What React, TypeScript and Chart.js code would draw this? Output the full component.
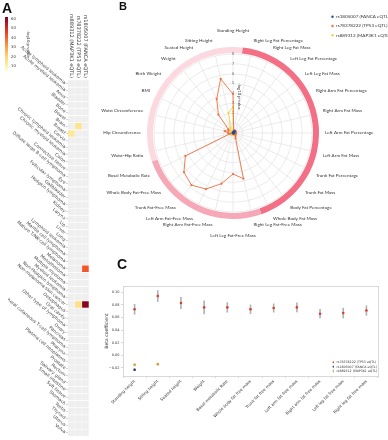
import React, { useEffect, useRef } from 'react';
import { Chart, registerables } from 'chart.js';

Chart.register(...registerables);

// ---------------- Panel A : heatmap ----------------
const cancerTypes = [
  'Acute lymphoid leukemia', 'Acute myeloid leukemia', 'Anus', 'Bladder', 'Bone', 'Bowel', 'Brain', 'Breast',
  'Cervix', 'Chronic lymphoid leukemia', 'Chronic myeloid leukemia', 'Colon', 'Connective tissue',
  'Diffuse large B-cell lymphoma', 'Eye', 'Follicular lymphoma', 'Gallbladder', 'Hodgkin lymphoma', 'Kidney',
  'Larynx', 'Lip', 'Liver', 'Lung', 'Lymphoid leukemia', 'Mantle cell lymphoma', 'Mature T/NK-cell lymphoma',
  'Melanoma', 'Mesothelioma', 'Multiple myeloma', 'Myeloid leukemia', 'Non-Hodgkin lymphoma',
  'Non-melanoma skin cancer', 'Oesophagus', 'Oral cavity', 'Other type of lymphoma', 'Ovary', 'Pancreas',
  'Peripheral cutaneous T-cell lymphoma', 'Pharynx', 'Plasma cell neoplasms', 'Prostate', 'Rectum',
  'Salivary gland', 'Small intestine', 'Soft tissue', 'Stomach', 'Testis', 'Thyroid', 'Uterus', 'Vulva',
];
const snpLabels = ['rs889312 (MAP3K1 eQTL)', 'rs78378222 (TP53 eQTL)', 'rs1805007 (FANCA eQTL)'];
const map3k1CancerLogP = [
  0, 0, 0, 0, 0, 0, 0, 14, 0, 0, 0, 0, 0, 0, 0, 0, 0, 0, 0, 0, 0, 0, 0, 0, 0,
  0, 0, 0, 0, 0, 0, 0, 0, 0, 0, 0, 0, 0, 0, 0, 0, 0, 0, 0, 0, 0, 0, 0, 0, 0,
];
const tp53CancerLogP = [
  0, 0, 0, 0, 0, 0, 15, 0, 0, 0, 0, 0, 0, 0, 0, 0, 0, 0, 0, 0, 0, 0, 0, 0, 0,
  0, 0, 0, 0, 0, 0, 17, 0, 0, 0, 0, 0, 0, 0, 0, 0, 0, 0, 0, 0, 0, 0, 0, 0, 0,
];
const fancaCancerLogP = [
  0, 0, 0, 0, 0, 0, 0, 0, 0, 0, 0, 0, 0, 0, 0, 0, 0, 0, 0, 0, 0, 0, 0, 0, 0,
  0, 42, 0, 0, 0, 0, 61, 0, 0, 0, 0, 0, 0, 0, 0, 0, 0, 0, 0, 0, 0, 0, 0, 0, 0,
];
const colorbarTicks = [10, 20, 30, 40, 50, 60];
const colorbarMin = 5;
const colorbarMax = 62;

// ---------------- Panel B : radar ----------------
const radarTraits = [
  'Standing Height', 'Right Leg Fat Percentage', 'Right Leg Fat Mass', 'Left Leg Fat Percentage',
  'Left Leg Fat Mass', 'Right Arm Fat Percentage', 'Right Arm Fat Mass', 'Left Arm Fat Percentage',
  'Left Arm Fat Mass', 'Trunk Fat Percentage', 'Trunk Fat Mass', 'Body Fat Percentage', 'Whole Body Fat Mass',
  'Right Leg Fat-Free Mass', 'Left Leg Fat-Free Mass', 'Right Arm Fat-Free Mass', 'Left Arm Fat-Free Mass',
  'Trunk Fat-Free Mass', 'Whole Body Fat-Free Mass', 'Basal Metabolic Rate', 'Waist-Hip Ratio',
  'Hip Circumference', 'Waist Circumference', 'BMI', 'Birth Weight', 'Weight', 'Seated Height', 'Sitting Height',
];
const traitGroup = [
  'size', 'fat', 'fat', 'fat', 'fat', 'fat', 'fat', 'fat', 'fat', 'fat', 'fat', 'fat', 'fat',
  'fatfree', 'fatfree', 'fatfree', 'fatfree', 'fatfree', 'fatfree', 'fatfree',
  'size', 'size', 'size', 'size', 'size', 'size', 'size', 'size',
];
const fancaRadar = [
  0.1, 0.15, 0.2, 0.3, 0.25, 0.2, 0.15, 0.1, 0.1, 0.1, 0.1, 0.1, 0.1, 0.05,
  0.05, 0.05, 0.05, 0.05, 0.05, 0.05, 0.05, 0.05, 0.05, 0.05, 0.05, 0.05, 0.05, 0.1,
];
const tp53Radar = [
  3.95, 0.3, 0.3, 0.3, 0.3, 0.3, 0.3, 0.3, 0.3, 0.3, 0.3, 0.4, 0.6, 4.75,
  4.15, 5.26, 6.3, 6.75, 6.36, 5.35, 0.3, 0.5, 0.85, 0.5, 0.6, 2.37, 3.81, 5.62,
];
const map3k1Radar = [
  2.63, 0.2, 0.2, 0.2, 0.2, 0.2, 0.2, 0.2, 0.2, 0.2, 0.2, 0.2, 0.2, 0.2,
  0.2, 0.2, 0.2, 0.2, 0.2, 0.2, 0.2, 0.2, 0.2, 0.2, 0.3, 0.4, 0.6, 2.09,
];
const radarMax = 8;
const radarStep = 1;

// ---------------- Panel C : beta coefficients ----------------
const betaTraits = [
  'Standing height', 'Sitting height', 'Seated height', 'Weight', 'Basal metabolic Rate',
  'Whole body fat free mass', 'Trunk fat free mass', 'Left arm fat free mass', 'Right arm fat free mass',
  'Left leg fat free mass', 'Right leg fat free mass',
];
const tp53Beta = [0.073, 0.094, 0.083, 0.076, 0.076, 0.073, 0.075, 0.076, 0.066, 0.067, 0.071];
const tp53Err = [0.008, 0.0087, 0.009, 0.0105, 0.0076, 0.007, 0.0066, 0.0073, 0.0068, 0.0079, 0.0076];
const fancaBeta = [-0.023, null, null, null, null, null, null, null, null, null, null];
const fancaErr = [0.0014, null, null, null, null, null, null, null, null, null, null];
const map3k1Beta = [-0.0153, -0.0142, null, null, null, null, null, null, null, null, null];
const map3k1Err = [0.0014, 0.0014, null, null, null, null, null, null, null, null, null];
const betaTicks = [-0.02, 0, 0.02, 0.04, 0.06, 0.08, 0.1];

const BLUE = '#1f4f9f';
const ORANGE = '#ef6f40';
const YELLOW = '#f1d442';
const RED = '#d8402b';
const NAVY = '#1f3a72';
const GOLD = '#d2a53c';

const heatStops: [number, string][] = [
  [0, '#ffffcc'], [0.25, '#fed976'], [0.5, '#fd8d3c'], [0.72, '#f03b20'], [1, '#800026'],
];

function hexToRgb(h: string) {
  const n = parseInt(h.slice(1), 16);
  return [(n >> 16) & 255, (n >> 8) & 255, n & 255];
}
function heatColor(v: number) {
  if (!v) return '#efefef';
  const t = Math.max(0, Math.min(1, (v - colorbarMin) / (colorbarMax - colorbarMin)));
  for (let i = 1; i < heatStops.length; i++) {
    if (t <= heatStops[i][0]) {
      const [t0, c0] = heatStops[i - 1];
      const [t1, c1] = heatStops[i];
      const f = (t - t0) / (t1 - t0);
      const a = hexToRgb(c0);
      const b = hexToRgb(c1);
      const c = a.map((x, k) => Math.round(x + (b[k] - x) * f));
      return `rgb(${c[0]},${c[1]},${c[2]})`;
    }
  }
  return heatStops[heatStops.length - 1][1];
}

const heatHeaderPlugin = {
  id: 'heatHeader',
  afterDraw(chart: any) {
    const { ctx, chartArea, scales } = chart;
    ctx.save();
    ctx.fillStyle = '#333';
    ctx.font = '5px "DejaVu Sans"';
    ctx.textAlign = 'right';
    ctx.textBaseline = 'middle';
    chart.data.datasets.forEach((ds: any, i: number) => {
      const x = scales.x.getPixelForValue(i + 0.5);
      ctx.save();
      ctx.translate(x, chartArea.top - 2);
      ctx.rotate(Math.PI / 2);
      ctx.fillText(ds.label, 0, 0);
      ctx.restore();
    });
    ctx.restore();
  },
};

const radarLabelPlugin = {
  id: 'radarLabels',
  afterDraw(chart: any) {
    const scale = chart.scales.r;
    const ctx = chart.ctx;
    ctx.save();
    ctx.font = '4.6px Lato';
    ctx.fillStyle = '#333';
    chart.data.labels.forEach((label: string, i: number) => {
      const deg = Math.round((scale.getIndexAngle(i) * 180) / Math.PI) % 360;
      const pad = deg === 0 || deg === 180 ? 21 : 13;
      const p = scale.getPointPosition(i, scale.drawingArea + pad);
      ctx.textAlign = deg === 0 || deg === 180 ? 'center' : deg < 180 ? 'left' : 'right';
      ctx.textBaseline = deg === 90 || deg === 270 ? 'middle' : deg > 270 || deg < 90 ? 'bottom' : 'top';
      ctx.fillText(label, p.x, p.y);
    });
    ctx.save();
    ctx.translate(scale.xCenter + 6.5, scale.yCenter - 36.5);
    ctx.rotate(Math.PI / 2);
    ctx.textAlign = 'center';
    ctx.textBaseline = 'middle';
    ctx.font = '4.2px Lato';
    ctx.fillText('-log10 p-value', 0, 0);
    ctx.restore();
    ctx.restore();
  },
};

const cornerLegendPlugin = {
  id: 'cornerLegend',
  afterDraw(chart: any, _args: any, opts: any) {
    if (!opts || !opts.show) return;
    const ctx = chart.ctx;
    ctx.save();
    ctx.font = `${opts.fontSize}px ${opts.family}`;
    ctx.textAlign = 'left';
    ctx.textBaseline = 'middle';
    opts.items.forEach((idx: number, k: number) => {
      const ds = chart.data.datasets[idx];
      const y = opts.y + k * opts.gap;
      const col = ds.pointBackgroundColor || ds.borderColor;
      if (opts.errorGlyph) {
        ctx.strokeStyle = '#aaa';
        ctx.lineWidth = 0.6;
        ctx.beginPath();
        ctx.moveTo(opts.x, y - 1.6);
        ctx.lineTo(opts.x, y + 1.6);
        ctx.stroke();
      }
      ctx.fillStyle = col;
      ctx.beginPath();
      ctx.arc(opts.x, y, opts.r, 0, Math.PI * 2);
      ctx.fill();
      ctx.fillStyle = '#333';
      ctx.fillText(ds.label, opts.x + opts.textGap, y);
    });
    ctx.restore();
  },
};

const letterStyle = (left: number, top: number, size: number): React.CSSProperties => ({
  position: 'absolute',
  left,
  top,
  fontFamily: '"Liberation Sans", Arial, sans-serif',
  fontWeight: 'bold',
  fontSize: size,
  lineHeight: 1,
  color: '#111',
});

export default function App() {
  const heatRef = useRef<HTMLCanvasElement>(null);
  const cbRef = useRef<HTMLCanvasElement>(null);
  const ringRef = useRef<HTMLCanvasElement>(null);
  const radarRef = useRef<HTMLCanvasElement>(null);
  const betaRef = useRef<HTMLCanvasElement>(null);

  useEffect(() => {
    const charts: Chart[] = [];
    const heatColumns = [map3k1CancerLogP, tp53CancerLogP, fancaCancerLogP];

    charts.push(
      new Chart(heatRef.current!, {
        type: 'bar',
        data: {
          labels: cancerTypes,
          datasets: heatColumns.map((col, ci) => ({
            label: snpLabels[ci],
            data: col.map(() => 1),
            backgroundColor: col.map((v) => heatColor(v)),
            borderColor: '#ffffff',
            borderWidth: 0.6,
            barPercentage: 1,
            categoryPercentage: 1,
          })),
        },
        options: {
          indexAxis: 'y',
          responsive: false,
          animation: false,
          layout: { padding: { top: 80, left: 8, right: 3, bottom: 0 } },
          plugins: { legend: { display: false }, tooltip: { enabled: false } },
          scales: {
            x: { stacked: true, min: 0, max: 3, display: false },
            y: {
              stacked: true,
              position: 'left',
              ticks: {
                autoSkip: false,
                minRotation: -40,
                maxRotation: -40,
                font: { size: 4.5, family: '"DejaVu Sans"' },
                color: '#444',
                padding: 1,
              },
              grid: { display: true, drawOnChartArea: false, offset: false, tickLength: 2, color: '#aaa', lineWidth: 0.5 },
              border: { display: false },
              afterFit: (s: any) => {
                s.width = 60;
              },
            },
          },
        } as any,
        plugins: [heatHeaderPlugin],
      })
    );

    charts.push(
      new Chart(cbRef.current!, {
        type: 'bar',
        data: {
          labels: [''],
          datasets: [
            {
              data: [[colorbarMin, colorbarMax]],
              backgroundColor: (c: any) => {
                const { ctx, chartArea } = c.chart;
                if (!chartArea) return '#f00';
                const g = ctx.createLinearGradient(0, chartArea.bottom, 0, chartArea.top);
                heatStops.forEach(([t, col]) => g.addColorStop(t, col));
                return g;
              },
              borderWidth: 0,
              barPercentage: 1,
              categoryPercentage: 1,
            },
          ],
        },
        options: {
          responsive: false,
          animation: false,
          layout: { padding: { left: 5, top: 17, bottom: 9, right: 0 } },
          plugins: { legend: { display: false }, tooltip: { enabled: false } },
          scales: {
            x: { display: false },
            y: {
              position: 'right',
              min: colorbarMin,
              max: colorbarMax,
              afterBuildTicks: (s: any) => {
                s.ticks = colorbarTicks.map((v) => ({ value: v }));
              },
              ticks: { font: { size: 3.8, family: '"DejaVu Sans"' }, color: '#333', padding: 1 },
              grid: { display: false, tickLength: 2 },
              border: { display: false },
              title: { display: true, text: '-log10 p-value', font: { size: 3.8, family: '"DejaVu Sans"' }, color: '#333', padding: 0 },
              afterFit: (s: any) => {
                s.width = 22;
              },
            },
          },
        } as any,
      })
    );

    const groupOrder = ['fat', 'fatfree', 'size'];
    const groupColors: Record<string, string> = { fat: '#f36f86', fatfree: '#f6a8b7', size: '#fcd9e0' };
    charts.push(
      new Chart(ringRef.current!, {
        type: 'doughnut',
        data: {
          labels: groupOrder,
          datasets: [
            {
              data: groupOrder.map((g) => traitGroup.filter((x) => x === g).length),
              backgroundColor: groupOrder.map((g) => groupColors[g]),
              borderWidth: 0,
            },
          ],
        },
        options: {
          responsive: false,
          animation: false,
          cutout: 80,
          rotation: 360 / radarTraits.length / 2,
          layout: { padding: 0 },
          plugins: { legend: { display: false }, tooltip: { enabled: false } },
        } as any,
      })
    );

    charts.push(
      new Chart(radarRef.current!, {
        type: 'radar',
        data: {
          labels: radarTraits,
          datasets: [
            { label: 'rs1805007 (FANCA eQTL)', data: fancaRadar, borderColor: BLUE, backgroundColor: BLUE, pointBackgroundColor: BLUE, pointRadius: 0.8 },
            { label: 'rs78378222 (TP53 eQTL)', data: tp53Radar, borderColor: ORANGE, backgroundColor: ORANGE, pointBackgroundColor: ORANGE },
            { label: 'rs889312 (MAP3K1 eQTL)', data: map3k1Radar, borderColor: YELLOW, backgroundColor: YELLOW, pointBackgroundColor: YELLOW },
          ],
        },
        options: {
          responsive: false,
          animation: false,
          layout: { padding: { left: 58, top: 53, right: 74, bottom: 46 } },
          elements: {
            line: { borderWidth: 0.9, tension: 0, fill: false },
            point: { radius: 1.1, borderWidth: 0 },
          },
          plugins: {
            legend: { display: false },
            tooltip: { enabled: false },
            cornerLegend: { show: true, items: [0, 1, 2], x: 237.5, y: 16.7, gap: 9.3, r: 1.2, textGap: 3.5, fontSize: 4.6, family: 'Lato' },
          },
          scales: {
            r: {
              min: 0,
              max: radarMax,
              ticks: { stepSize: radarStep, font: { size: 3 }, color: '#333', showLabelBackdrop: false, backdropPadding: 0 },
              pointLabels: { display: false },
              grid: { circular: true, color: '#e3e3e3', lineWidth: 0.7 },
              angleLines: { color: '#e3e3e3', lineWidth: 0.7 },
            },
          },
        } as any,
        plugins: [radarLabelPlugin, cornerLegendPlugin],
      })
    );

    const errBars = (b: (number | null)[], e: (number | null)[]) =>
      b.map((v, i) => (v == null || e[i] == null ? null : [v - (e[i] as number), v + (e[i] as number)]));

    charts.push(
      new Chart(betaRef.current!, {
        type: 'bar',
        data: {
          labels: betaTraits,
          datasets: [
            { type: 'line', label: 'rs78378222 (TP53 eQTL)', data: tp53Beta, showLine: false, pointRadius: 1.3, pointBorderWidth: 0, pointBackgroundColor: RED, borderColor: RED, order: 0 },
            { type: 'line', label: 'rs1805007 (FANCA eQTL)', data: fancaBeta, showLine: false, pointRadius: 1.3, pointBorderWidth: 0, pointBackgroundColor: NAVY, borderColor: NAVY, order: 0 },
            { type: 'line', label: 'rs889312 (MAP3K1 eQTL)', data: map3k1Beta, showLine: false, pointRadius: 1.3, pointBorderWidth: 0, pointBackgroundColor: GOLD, borderColor: GOLD, order: 0 },
            { type: 'bar', label: 'TP53 CI', data: errBars(tp53Beta, tp53Err), backgroundColor: '#b3b3b3', barThickness: 1, grouped: false, order: 1 },
            { type: 'bar', label: 'FANCA CI', data: errBars(fancaBeta, fancaErr), backgroundColor: '#b3b3b3', barThickness: 1, grouped: false, order: 1 },
            { type: 'bar', label: 'MAP3K1 CI', data: errBars(map3k1Beta, map3k1Err), backgroundColor: '#b3b3b3', barThickness: 1, grouped: false, order: 1 },
          ],
        },
        options: {
          responsive: false,
          animation: false,
          layout: { padding: { top: 6, right: 10, left: 9, bottom: 0 } },
          plugins: {
            legend: { display: false },
            tooltip: { enabled: false },
            cornerLegend: { show: true, errorGlyph: true, items: [0, 1, 2], x: 238.3, y: 82.3, gap: 4.4, r: 0.8, textGap: 3.2, fontSize: 3.2, family: '"DejaVu Sans"' },
          },
          scales: {
            x: {
              position: 'bottom',
              ticks: { autoSkip: false, minRotation: 45, maxRotation: 45, font: { size: 4, family: '"DejaVu Sans"' }, color: '#333', padding: 1 },
              grid: { drawOnChartArea: false, tickLength: 2, color: '#bbb', lineWidth: 0.6 },
              border: { color: '#cfcfcf', width: 0.8 },
              afterFit: (s: any) => {
                s.height = 64;
              },
            },
            x2: {
              type: 'category',
              position: 'top',
              display: true,
              ticks: { display: false },
              grid: { display: false, drawTicks: false },
              border: { display: true, color: '#cfcfcf', width: 0.8 },
              afterFit: (s: any) => {
                s.height = 0;
              },
            },
            y: {
              min: -0.033,
              max: 0.11,
              afterBuildTicks: (s: any) => {
                s.ticks = betaTicks.map((v) => ({ value: v }));
              },
              ticks: {
                font: { size: 3.5, family: '"DejaVu Sans"' },
                color: '#333',
                padding: 1.5,
                callback: (v: any) => Number(v).toFixed(2).replace('-', '\u2212'),
              },
              grid: { drawOnChartArea: false, tickLength: 2, color: '#bbb', lineWidth: 0.6 },
              border: { color: '#cfcfcf', width: 0.8 },
              title: { display: true, text: 'Beta coefficient', font: { size: 4.5, family: '"DejaVu Sans"' }, color: '#333', padding: 0 },
              afterFit: (s: any) => {
                s.width = 19;
              },
            },
            y2: {
              type: 'linear',
              position: 'right',
              display: true,
              ticks: { display: false },
              grid: { display: false, drawTicks: false },
              border: { display: true, color: '#cfcfcf', width: 0.8 },
              afterFit: (s: any) => {
                s.width = 0;
              },
            },
          },
        } as any,
        plugins: [cornerLegendPlugin],
      })
    );

    return () => charts.forEach((c) => c.destroy());
  }, []);

  const abs = (left: number, top: number): React.CSSProperties => ({ position: 'absolute', left, top });

  return (
    <div style={{ position: 'fixed', left: 0, top: 0, width: 388, height: 440, overflow: 'hidden', background: '#fff' }}>
      <canvas ref={heatRef} width={92} height={440} style={abs(0, 0)} />
      <canvas ref={cbRef} width={30} height={80} style={abs(0, 0)} />
      <canvas ref={ringRef} width={172} height={172} style={abs(147, 47)} />
      <canvas ref={radarRef} width={293} height={260} style={abs(95, 0)} />
      <canvas ref={betaRef} width={293} height={160} style={abs(95, 280)} />
      <div style={letterStyle(2, 1, 14)}>A</div>
      <div style={letterStyle(119, 1, 11)}>B</div>
      <div style={letterStyle(117, 257, 14)}>C</div>
    </div>
  );
}
